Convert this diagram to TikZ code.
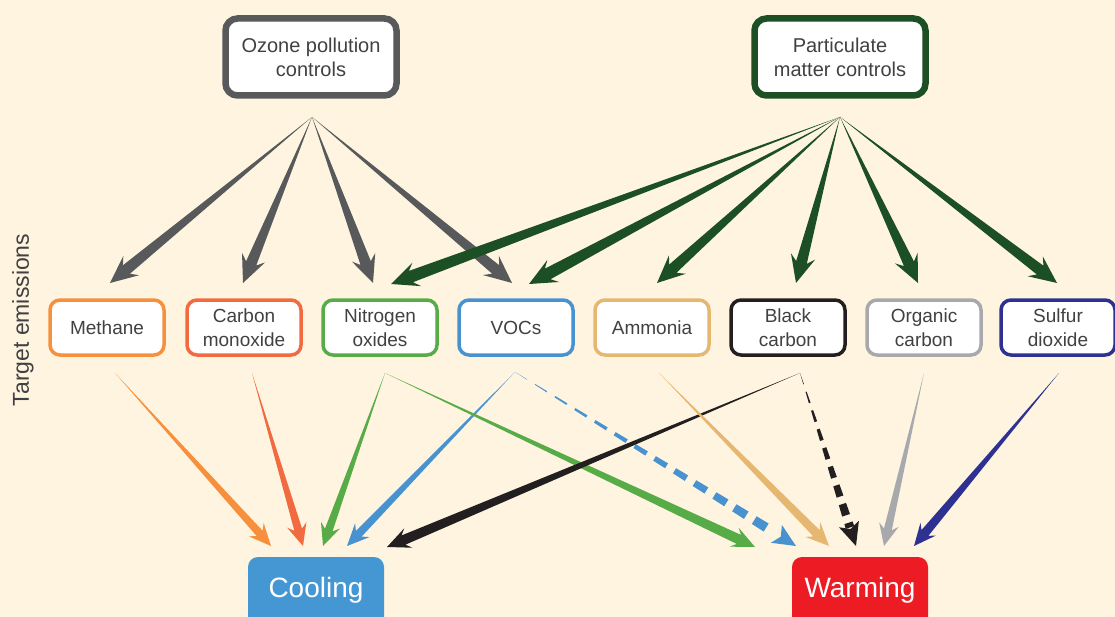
\documentclass[tikz,border=0pt]{standalone}
\usepackage{fontspec}
\setmainfont{Liberation Sans}
\usetikzlibrary{calc}
\definecolor{bg}{RGB}{254, 244, 224}
\definecolor{txt}{RGB}{65, 64, 66}
\definecolor{oz}{RGB}{88, 89, 91}
\definecolor{pm}{RGB}{28, 79, 36}
\definecolor{me}{RGB}{247, 144, 60}
\definecolor{co}{RGB}{242, 106, 63}
\definecolor{nx}{RGB}{88, 172, 71}
\definecolor{vo}{RGB}{72, 146, 207}
\definecolor{am}{RGB}{230, 183, 112}
\definecolor{bc}{RGB}{35, 31, 32}
\definecolor{oc}{RGB}{167, 169, 172}
\definecolor{so}{RGB}{46, 49, 146}
\definecolor{cl}{RGB}{68, 151, 211}
\definecolor{wm}{RGB}{237, 28, 36}

% tapered arrow: colour, from, to, half shaft, half head
\newcommand{\tarrow}[5]{%
  \pgfmathsetlengthmacro{\hlen}{2.2*#5pt}%
  \pgfmathsetlengthmacro{\jlen}{1.7*#5pt}%
  \coordinate (hb) at ($(#3)!\hlen!(#2)$);
  \coordinate (hj) at ($(#3)!\jlen!(#2)$);
  \fill[#1] (#2) -- ($(hj)!#4pt!90:(#3)$) -- ($(hb)!#5pt!90:(#3)$) -- (#3)
    -- ($(hb)!#5pt!-90:(#3)$) -- ($(hj)!#4pt!-90:(#3)$) -- cycle;
}
% dashed tapered arrow: same, plus dash period (fraction)
\newcommand{\darrow}[6]{%
  \pgfmathsetlengthmacro{\hlen}{2.2*#5pt}%
  \pgfmathsetlengthmacro{\jlen}{1.7*#5pt}%
  \coordinate (hb) at ($(#3)!\hlen!(#2)$);
  \coordinate (hj) at ($(#3)!\jlen!(#2)$);
  \fill[#1] (hj) -- ($(hb)!#5pt!90:(#3)$) -- (#3) -- ($(hb)!#5pt!-90:(#3)$) -- cycle;
  \foreach \a in {0,#6,...,0.97}{
    \pgfmathsetmacro{\b}{min(\a+0.6*#6,0.99)}
    \pgfmathsetlengthmacro{\wa}{\a*#4pt}
    \pgfmathsetlengthmacro{\wb}{\b*#4pt}
    \coordinate (pa) at ($(#2)!\a!(hj)$);
    \coordinate (pb) at ($(#2)!\b!(hj)$);
    \fill[#1] ($(pa)!\wa!90:(hj)$) -- ($(pb)!\wb!90:(hj)$)
      -- ($(pb)!\wb!-90:(hj)$) -- ($(pa)!\wa!-90:(hj)$) -- cycle;
  }
}

\tikzset{
  ctrl/.style={draw, fill=white, rounded corners=12pt, line width=6.5pt, minimum width=171pt, minimum height=77pt, align=center, text=txt, font=\fontsize{20}{24}\selectfont},
  emis/.style={draw, fill=white, rounded corners=10pt, line width=3.5pt, minimum width=114pt, minimum height=55pt, inner sep=0pt, align=center, text=txt, font=\fontsize{19}{24}\selectfont},
  effect/.style={rounded corners=10pt, minimum width=136pt, inner sep=0pt, text height=40pt, text depth=46pt, text=white, font=\fontsize{28}{28}\selectfont},
}

\begin{document}
\begin{tikzpicture}
\fill[bg] (0pt, 0pt) rectangle (1115pt, -617pt);
\useasboundingbox (0pt, 0pt) rectangle (1115pt, -617pt);

% controls
\node (ozc) [ctrl, draw=oz] at (311pt, -57pt) {Ozone pollution\\controls};
\node (pmc) [ctrl, draw=pm] at (840pt, -57pt) {Particulate\\matter controls};

% target emissions
\node (meth) [emis, draw=me] at (107pt, -327.5pt) {Methane};
\node (carb) [emis, draw=co] at (244pt, -327.5pt) {Carbon\\monoxide};
\node (nitr) [emis, draw=nx] at (380pt, -327.5pt) {Nitrogen\\oxides};
\node (vocs) [emis, draw=vo] at (516pt, -327.5pt) {VOCs};
\node (ammo) [emis, draw=am] at (652pt, -327.5pt) {Ammonia};
\node (blac) [emis, draw=bc] at (788pt, -327.5pt) {Black\\carbon};
\node (orga) [emis, draw=oc] at (924pt, -327.5pt) {Organic\\carbon};
\node (sulf) [emis, draw=so] at (1058pt, -327.5pt) {Sulfur\\dioxide};
\node (target) [rotate=90, text=txt, font=\fontsize{23}{23}\selectfont] at (23pt, -320pt) {Target emissions};

% effects
\node (cool) [effect, fill=cl] at (316pt, -600pt) {Cooling};
\node (warm) [effect, fill=wm] at (860pt, -600pt) {Warming};

% fan points and arrow tips
\coordinate (ozf) at (312pt, -117pt);
\coordinate (pmf) at (840pt, -117pt);
\coordinate (methin) at (110pt, -283pt);
\coordinate (carbin) at (243pt, -283pt);
\coordinate (nitrin1) at (373pt, -283pt);
\coordinate (nitrin2) at (391pt, -284pt);
\coordinate (vocsin1) at (512pt, -283pt);
\coordinate (vocsin2) at (529pt, -284pt);
\coordinate (ammoin) at (657pt, -283pt);
\coordinate (blacin) at (796pt, -283pt);
\coordinate (orgain) at (918pt, -283pt);
\coordinate (sulfin) at (1057pt, -283pt);

\coordinate (methout) at (115pt, -373pt);
\coordinate (carbout) at (252pt, -373pt);
\coordinate (nitrout) at (385pt, -373pt);
\coordinate (vocsout) at (515pt, -372pt);
\coordinate (ammoout) at (659pt, -373pt);
\coordinate (blacout) at (800pt, -373pt);
\coordinate (orgaout) at (924pt, -373pt);
\coordinate (sulfout) at (1059pt, -373pt);

\coordinate (cool1) at (271pt, -546pt);
\coordinate (cool2) at (303pt, -546pt);
\coordinate (cool3) at (323pt, -546pt);
\coordinate (cool4) at (347pt, -546pt);
\coordinate (cool5) at (387pt, -547pt);
\coordinate (warm1) at (755pt, -547pt);
\coordinate (warm2) at (796pt, -546pt);
\coordinate (warm3) at (829pt, -546pt);
\coordinate (warm4) at (856pt, -546pt);
\coordinate (warm5) at (884pt, -546pt);
\coordinate (warm6) at (914pt, -546pt);

% control arrows
\tarrow{oz}{ozf}{methin}{5.5}{12.5}
\tarrow{oz}{ozf}{carbin}{5.5}{12.5}
\tarrow{oz}{ozf}{nitrin1}{5.5}{12.5}
\tarrow{oz}{ozf}{vocsin1}{5.5}{12.5}
\tarrow{pm}{pmf}{nitrin2}{6}{12.5}
\tarrow{pm}{pmf}{vocsin2}{6}{12.5}
\tarrow{pm}{pmf}{ammoin}{5.5}{12.5}
\tarrow{pm}{pmf}{blacin}{5.5}{12.5}
\tarrow{pm}{pmf}{orgain}{5.5}{12.5}
\tarrow{pm}{pmf}{sulfin}{5.5}{12.5}

% effect arrows
\darrow{vo}{vocsout}{warm2}{5}{10.5}{0.075}
\darrow{bc}{blacout}{warm4}{4.5}{10.5}{0.12}
\tarrow{me}{methout}{cool1}{4}{10}
\tarrow{co}{carbout}{cool2}{4}{10}
\tarrow{nx}{nitrout}{cool3}{4}{10}
\tarrow{vo}{vocsout}{cool4}{4}{10}
\tarrow{nx}{nitrout}{warm1}{5}{10.5}
\tarrow{bc}{blacout}{cool5}{5}{10.5}
\tarrow{am}{ammoout}{warm3}{4.5}{10.5}
\tarrow{oc}{orgaout}{warm5}{4}{10}
\tarrow{so}{sulfout}{warm6}{4.5}{10}
\end{tikzpicture}
\end{document}
